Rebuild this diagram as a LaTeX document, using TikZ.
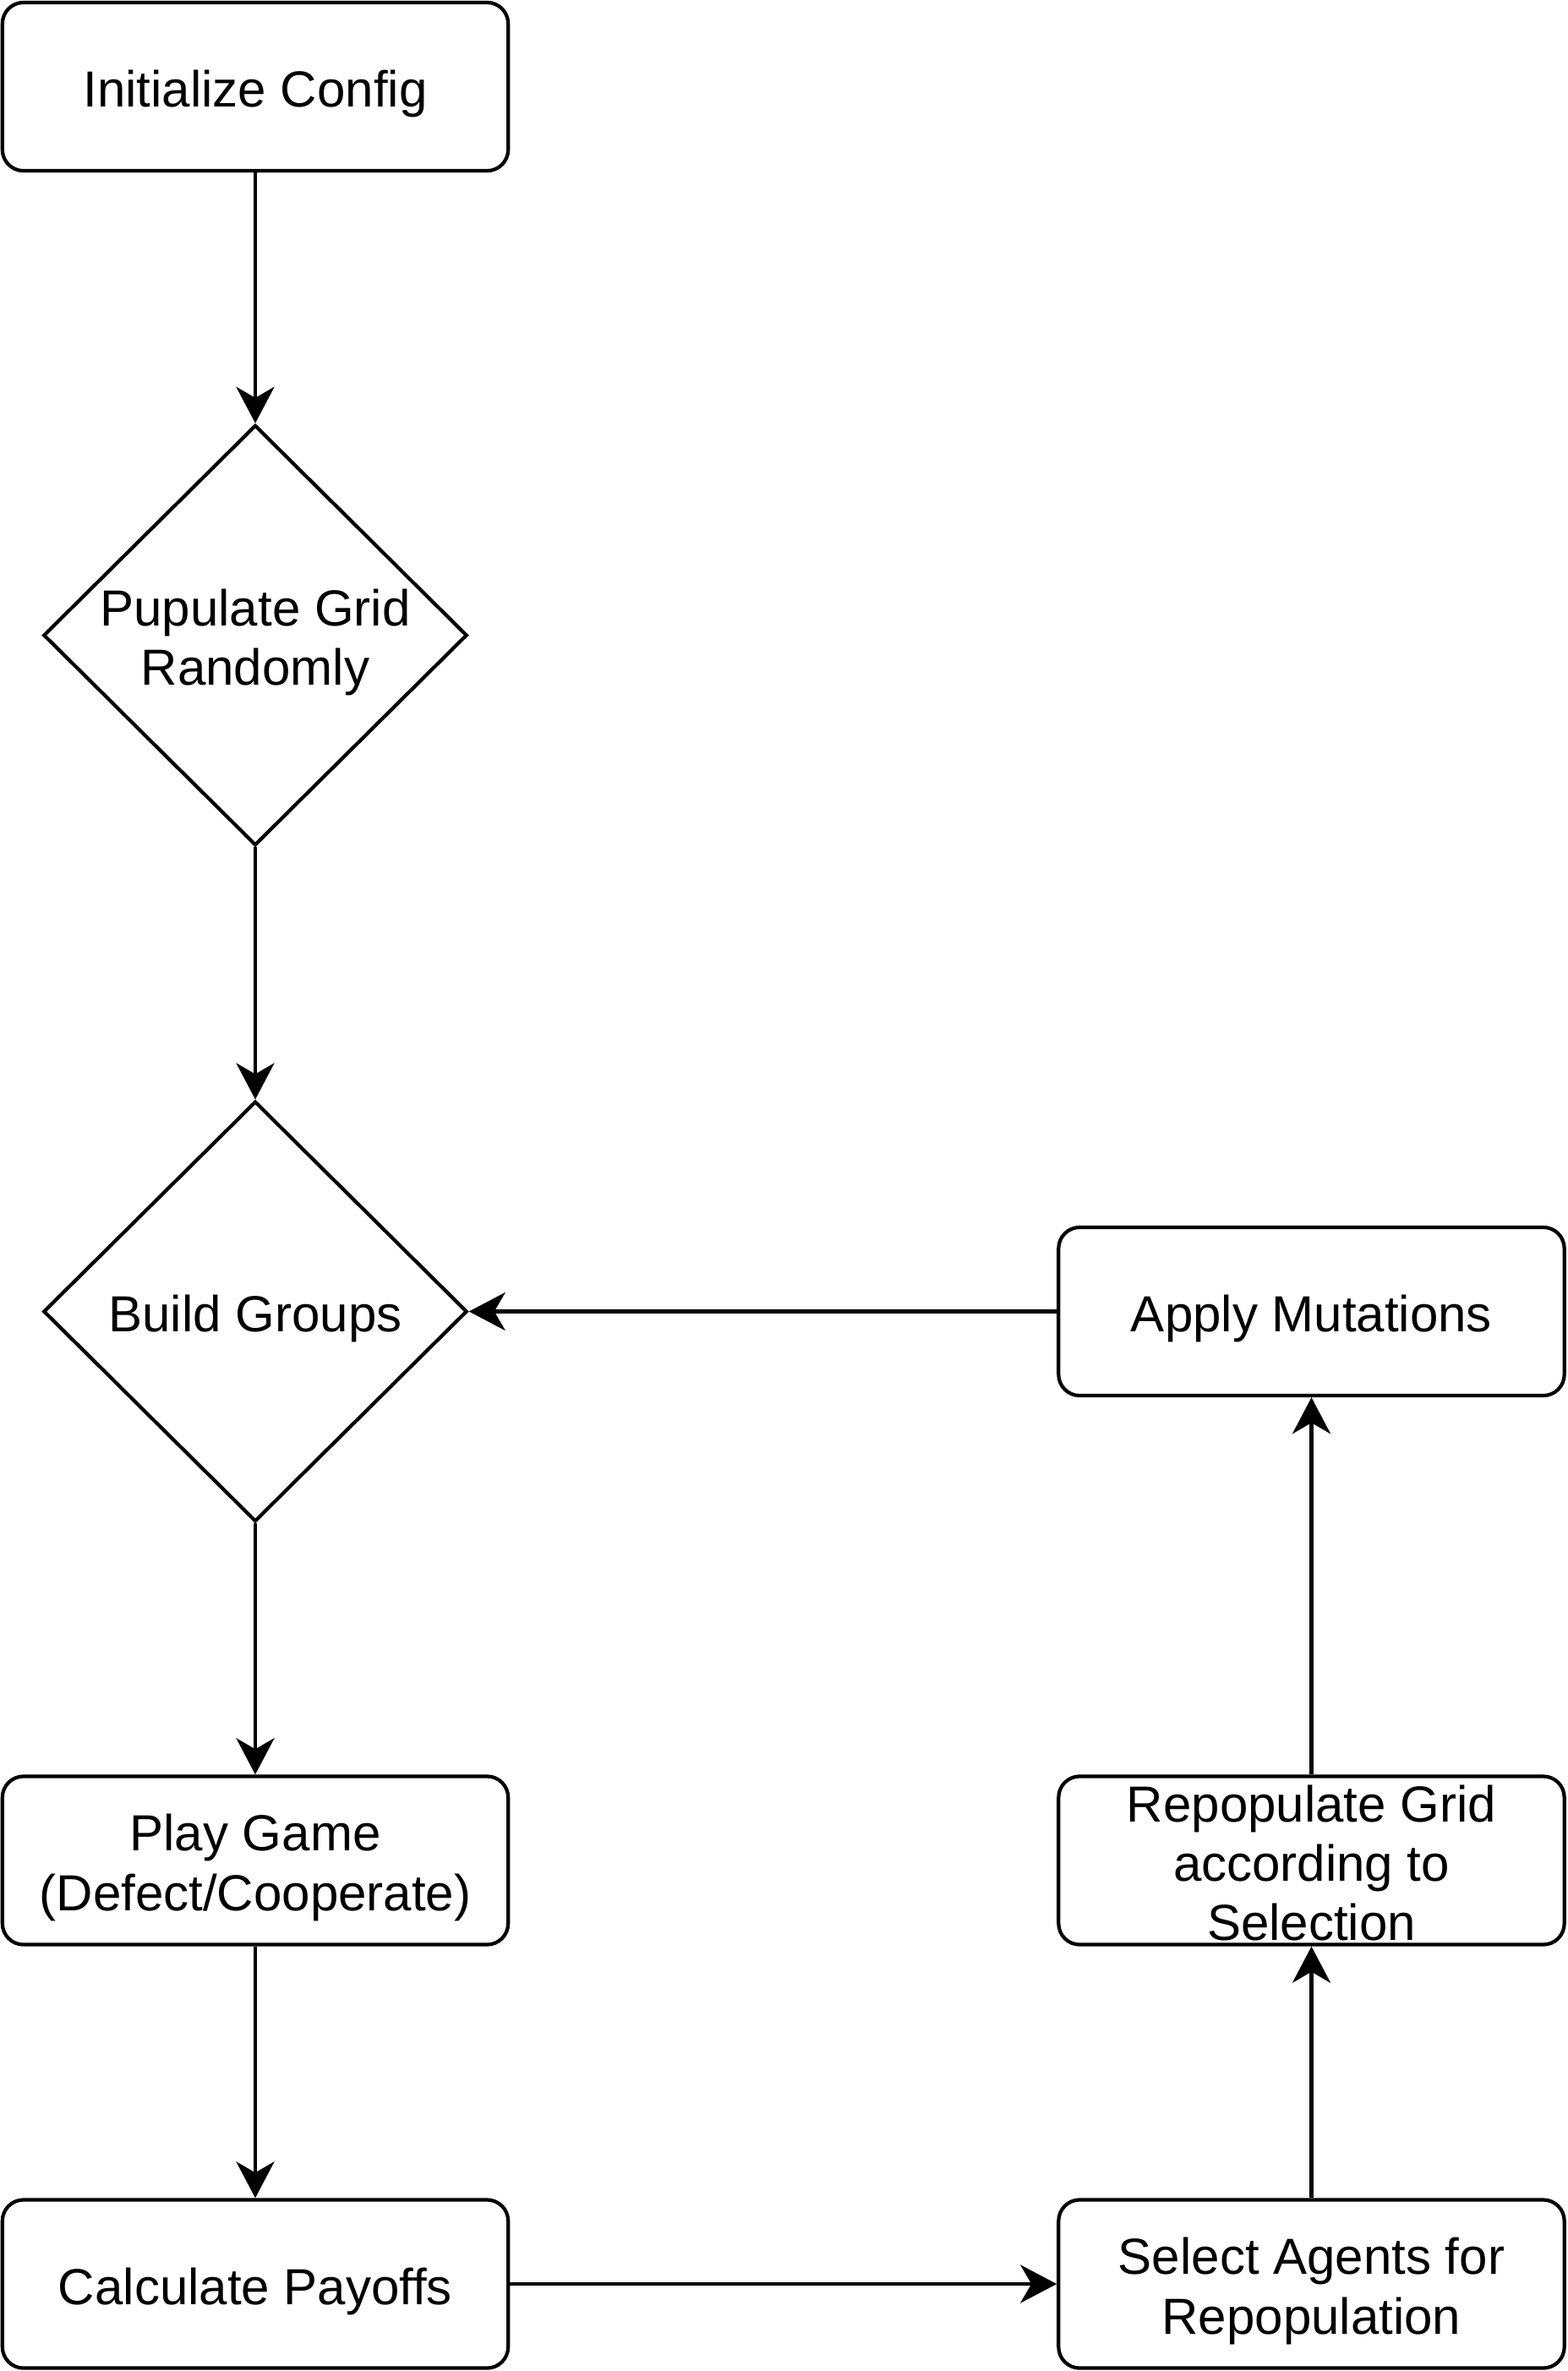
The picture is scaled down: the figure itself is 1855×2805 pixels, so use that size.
\documentclass[tikz,border=0pt]{standalone}
\usepackage{fontspec}
\setmainfont{Liberation Sans}
\usetikzlibrary{shapes.geometric,arrows.meta}
\begin{document}
\begin{tikzpicture}[x=0.01cm,y=-0.01cm,
  base/.style={draw=black,line width=1.2pt,inner sep=0pt},
  txt/.style={inner sep=0pt,align=center,yshift=-0.085cm,
    font=\fontsize{17.07}{20}\selectfont},
  procbox/.style={base,rectangle,rounded corners=0.25cm,minimum width=5.98cm,minimum height=1.99cm},
  decision/.style={base,diamond,minimum width=5.01cm,minimum height=4.97cm},
  flow/.style={line width=1.2pt,-{Stealth[length=0.43cm,width=0.45cm,inset=0.13cm]}}]
\useasboundingbox (0,0) rectangle (1855,2805);
\node[procbox,label={[txt]center:Initialize Config}] (init) at (302,102.5) {};
\node[decision,label={[txt]center:{Pupulate Grid\\Randomly}}] (pop) at (302,751.5) {};
\node[decision,label={[txt]center:Build Groups}] (groups) at (302,1551.5) {};
\node[procbox,label={[txt]center:Apply Mutations}] (apply) at (1551.5,1551.5) {};
\node[procbox,label={[txt]center:{Play Game\\(Defect/Cooperate)}}] (play) at (302,2201) {};
\node[procbox,label={[txt,yshift=0.055cm]center:{Repopulate Grid\\according to\\Selection}}] (repop) at (1551.5,2201) {};
\node[procbox,label={[txt]center:Calculate Payoffs}] (calc) at (302,2702) {};
\node[procbox,label={[txt]center:{Select Agents for\\Repopulation}}] (select) at (1551.5,2702) {};
\draw[flow] (init) -- (pop);
\draw[flow] (pop) -- (groups);
\draw[flow] (groups) -- (play);
\draw[flow] (play) -- (calc);
\draw[flow] (calc) -- (select);
\draw[flow] (select) -- (repop);
\draw[flow] (repop) -- (apply);
\draw[flow] (apply.west) -- (groups.east);
\end{tikzpicture}
\end{document}
